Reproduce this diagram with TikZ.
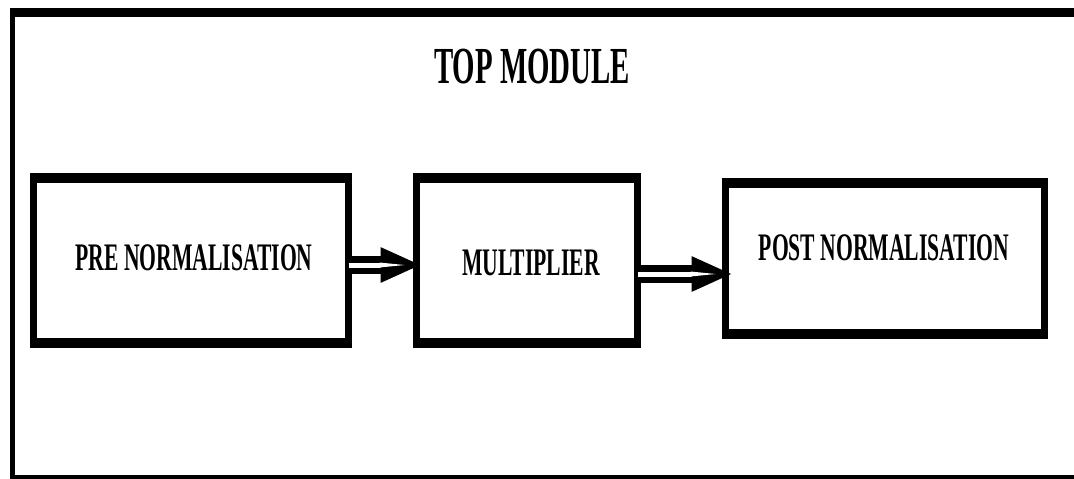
\documentclass[tikz,border=0pt]{standalone}
\usepackage{fontspec}
\setmainfont{Liberation Serif}[FakeStretch=0.555]
\usetikzlibrary{arrows.meta,calc}
\begin{document}
\begin{tikzpicture}[x=1pt,y=-1pt,
  box/.style={draw, rectangle, line width=7pt, outer sep=0pt, inner sep=0pt},
  hedge/.style={line width=10pt},
  fedge/.style={line width=9pt},
  lbl/.style={inner sep=0pt, font=\fontsize{39}{39}\selectfont\bfseries},
  ttl/.style={inner sep=0pt, font=\fontsize{52}{52}\selectfont\bfseries},
  dblarrow/.style={double, double distance=5pt, line width=6.5pt,
                   -{Triangle[length=40pt,width=34pt]}},
  slit/.style={fill=white},
]
\useasboundingbox (0,0) rectangle (1074,479);
\clip (0,0) rectangle (1074,479);

% enclosing module frame (runs off the right and bottom edges)
\node[draw, rectangle, line width=5.5pt, outer sep=0pt, inner sep=0pt,
      minimum width=1072.5pt, minimum height=467pt] (top) at (548.75,246) {};
\draw[fedge] ([xshift=-2.75pt]top.north west) -- ([xshift=2.75pt]top.north east);
\draw[fedge] ([xshift=-2.75pt]top.south west) -- ([xshift=2.75pt]top.south east);
\node[ttl] (title) at (532,67) {TOP MODULE};

% the three stages
\node[box, minimum width=315pt, minimum height=165pt] (b1) at (191,260.5) {};
\node[box, minimum width=221pt, minimum height=165pt] (b2) at (527,260.5) {};
\node[box, minimum width=319pt, minimum height=151pt] (b3) at (885,258.5) {};
\foreach \b in {b1,b2,b3}{
  \draw[hedge] ([xshift=-3.5pt]\b.north west) -- ([xshift=3.5pt]\b.north east);
  \draw[hedge] ([xshift=-3.5pt]\b.south west) -- ([xshift=3.5pt]\b.south east);
}
\node[lbl] (t1) at (194,258) {PRE NORMALISATION};
\node[lbl] (t2) at (531,263) {MULTIPLIER};
\node[lbl] (t3) at (884,248) {POST NORMALISATION};

% data flow between stages: hollow double arrows
\coordinate (a1) at ([yshift=-4.5pt]b1.east);
\coordinate (e1) at ($(a1 -| b2.west)+(4,0)$);
\coordinate (a2) at ([yshift=-13.5pt]b2.east);
\coordinate (e2) at ($(a2 -| b3.west)+(6,0)$);
\foreach \s/\e in {a1/e1,a2/e2}{
  \draw[dblarrow] (\s) -- (\e);
  \fill[slit] ($(\e)+(-41,-2.5)$) -- ($(\e)+(-16,0)$) -- ($(\e)+(-41,2.5)$) -- cycle;
}
\end{tikzpicture}
\end{document}
